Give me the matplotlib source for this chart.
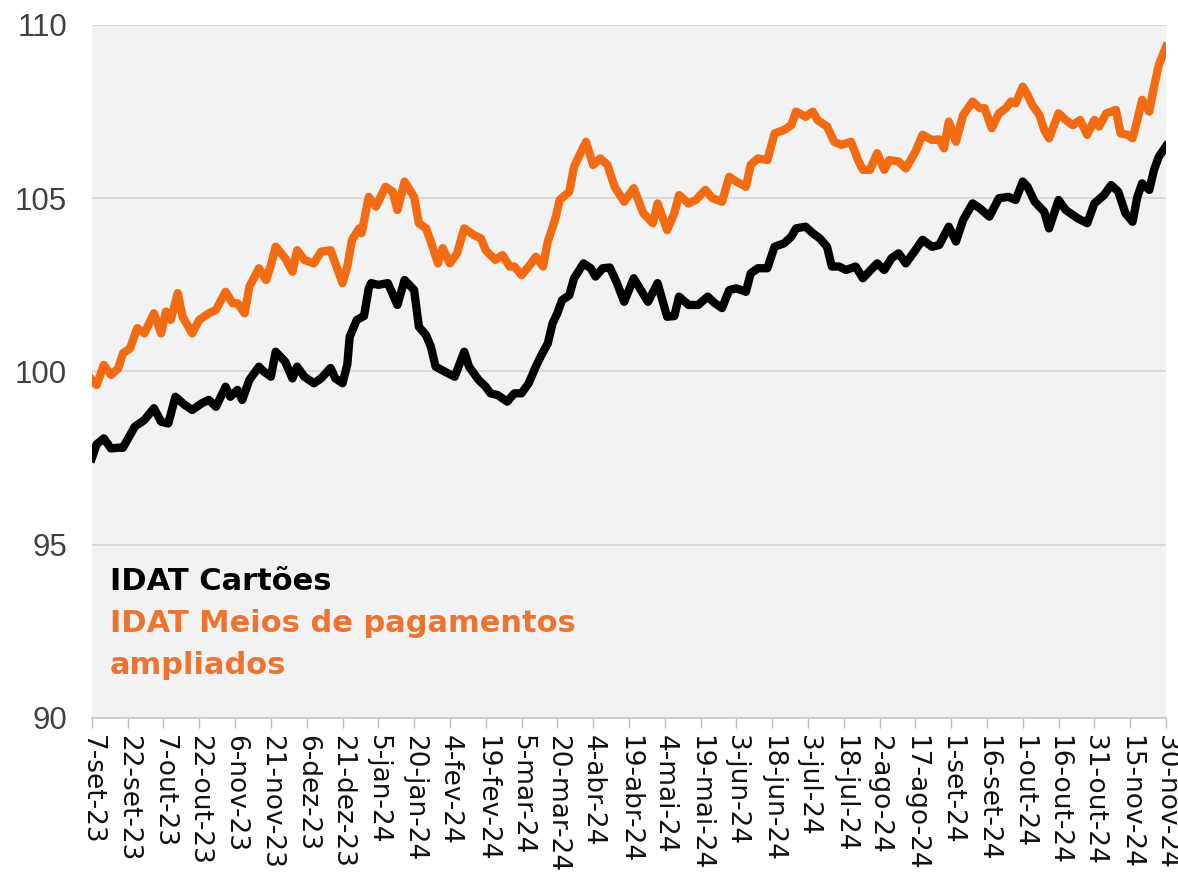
import numpy as np
import matplotlib
matplotlib.use("Agg")
import matplotlib.pyplot as plt

plt.rcParams['font.family'] = ['Liberation Sans', 'DejaVu Sans']

###############################################################################
# data (days counted from 7-set-23)
cartoes_days = [0, 2, 5, 8, 11, 13, 18, 22, 26, 29, 32, 35, 39, 42, 46, 49, 52,
                56, 58, 61, 63, 66, 70, 72, 75, 77, 81, 84, 86, 89, 93, 96, 100,
                102, 105, 107, 108, 111, 114, 116, 117, 120, 124, 128, 131, 135,
                137, 140, 142, 144, 148, 152, 156, 158, 162, 165, 167, 170, 174,
                177, 180, 183, 186, 188, 191, 193, 195, 197, 200, 202, 206, 209,
                211, 214, 217, 220, 223, 227, 233, 237, 241, 244, 246, 250, 254,
                258, 261, 264, 267, 270, 274, 276, 279, 283, 286, 290, 293, 295,
                299, 302, 305, 308, 310, 313, 316, 320, 323, 327, 329, 332, 335,
                338, 341, 345, 348, 352, 355, 359, 362, 365, 369, 372, 376, 380,
                384, 387, 390, 392, 395, 399, 401, 405, 408, 413, 417, 420, 424,
                427, 430, 433, 436, 438, 440, 443, 445, 447, 450]
cartoes = [97.5, 97.9, 98.07, 97.78, 97.8, 97.8, 98.41, 98.6, 98.94, 98.55, 98.5,
           99.27, 99.03, 98.89, 99.08, 99.18, 98.98, 99.56, 99.27, 99.47, 99.18,
           99.76, 100.14, 100.0, 99.85, 100.57, 100.28, 99.8, 100.14, 99.85, 99.66,
           99.8, 100.1, 99.8, 99.66, 100.2, 101.0, 101.49, 101.6, 102.4, 102.55,
           102.5, 102.55, 101.92, 102.64, 102.35, 101.29, 101.05, 100.72, 100.14,
           99.99, 99.85, 100.57, 100.14, 99.76, 99.56, 99.37, 99.32, 99.13, 99.37,
           99.37, 99.66, 100.14, 100.43, 100.81, 101.39, 101.68, 102.06, 102.2,
           102.69, 103.12, 102.98, 102.74, 102.98, 103.0, 102.55, 102.01, 102.69,
           102.01, 102.55, 101.58, 101.6, 102.16, 101.92, 101.92, 102.16, 101.97,
           101.83, 102.35, 102.4, 102.3, 102.83, 102.98, 102.98, 103.6, 103.7,
           103.89, 104.13, 104.18, 103.99, 103.84, 103.6, 103.03, 103.03, 102.93,
           103.03, 102.69, 102.98, 103.12, 102.93, 103.27, 103.41, 103.12, 103.5,
           103.8, 103.6, 103.65, 104.18, 103.75, 104.37, 104.85, 104.71, 104.47,
           105.0, 105.04, 104.95, 105.48, 105.33, 104.9, 104.61, 104.13, 104.95,
           104.66, 104.42, 104.28, 104.85, 105.09, 105.38, 105.19, 104.57, 104.32,
           105.04, 105.43, 105.24, 105.82, 106.2, 106.5]

meios_days = [0, 2, 5, 8, 11, 13, 16, 19, 22, 26, 29, 31, 33, 36, 38, 42, 45, 49,
              52, 56, 59, 61, 64, 66, 70, 73, 75, 77, 81, 84, 86, 89, 93, 96, 100,
              103, 105, 107, 109, 112, 113, 116, 119, 123, 126, 128, 131, 135, 137,
              140, 142, 145, 147, 150, 153, 156, 160, 163, 165, 169, 172, 175, 177,
              180, 183, 186, 189, 191, 194, 196, 200, 202, 204, 207, 210, 213, 216,
              219, 223, 227, 231, 235, 237, 241, 244, 246, 250, 253, 257, 260, 264,
              267, 270, 274, 276, 279, 283, 286, 290, 293, 295, 299, 302, 304, 308,
              311, 314, 318, 321, 323, 326, 329, 332, 334, 338, 341, 345, 348, 352,
              355, 357, 359, 362, 365, 369, 372, 374, 377, 380, 383, 385, 387, 390,
              392, 394, 397, 399, 401, 405, 408, 411, 414, 417, 420, 422, 425, 429,
              431, 434, 436, 438, 440, 443, 445, 447, 450]
meios = [99.76, 99.61, 100.19, 99.9, 100.09, 100.52, 100.67, 101.25, 101.1, 101.68,
         101.1, 101.73, 101.49, 102.26, 101.58, 101.1, 101.49, 101.68, 101.78, 102.3,
         101.97, 101.97, 101.68, 102.45, 102.98, 102.64, 103.07, 103.6, 103.27,
         102.88, 103.5, 103.22, 103.12, 103.46, 103.5, 102.93, 102.55, 103.03, 103.8,
         104.13, 103.99, 105.04, 104.76, 105.33, 105.19, 104.66, 105.48, 105.04,
         104.28, 104.13, 103.75, 103.12, 103.56, 103.12, 103.41, 104.13, 103.94,
         103.84, 103.5, 103.22, 103.36, 103.03, 103.03, 102.78, 103.03, 103.31,
         103.03, 103.75, 104.37, 104.95, 105.19, 105.91, 106.2, 106.63, 105.96,
         106.15, 105.96, 105.33, 104.9, 105.29, 104.57, 104.28, 104.85, 104.08,
         104.57, 105.09, 104.85, 104.95, 105.24, 105.0, 104.9, 105.62, 105.48,
         105.33, 105.96, 106.15, 106.1, 106.87, 106.97, 107.11, 107.5, 107.35, 107.5,
         107.26, 107.07, 106.63, 106.54, 106.63, 106.1, 105.82, 105.82, 106.3,
         105.82, 106.1, 106.06, 105.86, 106.34, 106.83, 106.68, 106.7, 106.44,
         107.21, 106.63, 107.4, 107.79, 107.6, 107.6, 107.02, 107.45, 107.6, 107.79,
         107.74, 108.22, 107.98, 107.69, 107.4, 106.97, 106.73, 107.45, 107.26,
         107.11, 107.26, 106.83, 107.26, 107.07, 107.45, 107.55, 106.87, 106.83,
         106.73, 107.26, 107.84, 107.5, 108.22, 108.85, 109.37]

tick_labels = ["7-set-23", "22-set-23", "7-out-23", "22-out-23", "6-nov-23",
               "21-nov-23", "6-dez-23", "21-dez-23", "5-jan-24", "20-jan-24",
               "4-fev-24", "19-fev-24", "5-mar-24", "20-mar-24", "4-abr-24",
               "19-abr-24", "4-mai-24", "19-mai-24", "3-jun-24", "18-jun-24",
               "3-jul-24", "18-jul-24", "2-ago-24", "17-ago-24", "1-set-24",
               "16-set-24", "1-out-24", "16-out-24", "31-out-24", "15-nov-24",
               "30-nov-24"]
y_ticks = [90, 95, 100, 105, 110]

black = '#000000'
orange = '#F26A12'
###############################################################################
fig = plt.figure(figsize=(11.78, 8.74), dpi=100)
ax = fig.add_axes([0.078, 0.1785, 0.9118, 0.7929])
ax.set_facecolor('#F2F2F2')

ax.plot(cartoes_days, cartoes, color=black, lw=6, solid_joinstyle='round', zorder=3)
ax.plot(meios_days, meios, color=orange, lw=6, solid_joinstyle='round', zorder=3)

ax.set_xlim(0, 450)
ax.set_ylim(90, 110)
ax.set_yticks(y_ticks)
ax.set_xticks(np.arange(0, 451, 15))
ax.set_xticklabels(tick_labels, rotation=-90, ha='center', va='top',
                   fontsize=19, color='#111111', family='DejaVu Sans')
ax.tick_params(axis='y', length=0, labelsize=22.5, labelcolor='#404040', pad=18)
ax.tick_params(axis='x', length=7, color='#BFBFBF', width=1, pad=5)

ax.grid(axis='y', color='#D4D4D4', lw=1.2, zorder=0)
for s in ['top', 'right', 'left']:
    ax.spines[s].set_visible(False)
ax.spines['bottom'].set_color('#C8C8C8')
ax.spines['bottom'].set_linewidth(1.2)

# legend as coloured text
leg_font = dict(fontsize=22, fontweight='bold', va='baseline', family='DejaVu Sans')
ax.text(7.5, 93.7, "IDAT Cartões", color=black, **leg_font)
ax.text(7.5, 92.48, "IDAT Meios de pagamentos", color='#EC7430', **leg_font)
ax.text(7.5, 91.27, "ampliados", color='#EC7430', **leg_font)

plt.savefig('out.png', dpi=100)
